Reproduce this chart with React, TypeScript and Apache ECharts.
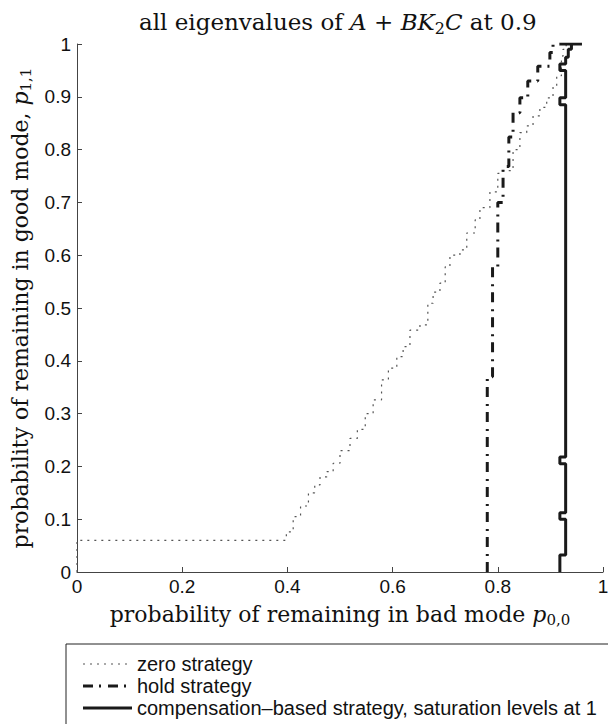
import React, { useEffect, useRef } from "react";
import * as echarts from "echarts";

const xTicks = [0, 0.2, 0.4, 0.6, 0.8, 1];
const yTicks = [0, 0.1, 0.2, 0.3, 0.4, 0.5, 0.6, 0.7, 0.8, 0.9, 1];

const seriesNames = [
  "zero strategy",
  "hold strategy",
  "compensation–based strategy, saturation levels at 1",
];

// zero strategy (stair boundary)
const zeroX = [0, 0, 0.39, 0.398, 0.411, 0.425, 0.44, 0.452, 0.462, 0.475, 0.487, 0.5, 0.519, 0.533, 0.548, 0.563, 0.579, 0.592, 0.608, 0.62, 0.633, 0.652, 0.667, 0.677, 0.69, 0.7, 0.709, 0.728, 0.741, 0.757, 0.766, 0.785, 0.8, 0.81, 0.829, 0.842, 0.855, 0.867, 0.88, 0.893, 0.905, 0.912, 0.921, 0.924, 0.93];
const zeroY = [0, 0.06, 0.06, 0.076, 0.105, 0.125, 0.15, 0.165, 0.18, 0.19, 0.206, 0.23, 0.253, 0.27, 0.3, 0.326, 0.364, 0.386, 0.408, 0.427, 0.458, 0.468, 0.509, 0.53, 0.547, 0.578, 0.6, 0.61, 0.642, 0.667, 0.69, 0.72, 0.755, 0.76, 0.8, 0.832, 0.845, 0.864, 0.88, 0.898, 0.92, 0.94, 0.977, 0.99, 1.0];

// hold strategy
const holdX = [0.78, 0.78, 0.79, 0.79, 0.8, 0.8, 0.81, 0.81, 0.821, 0.821, 0.829, 0.829, 0.842, 0.842, 0.857, 0.857, 0.876, 0.876, 0.899, 0.899, 0.905, 0.905, 0.918];
const holdY = [0, 0.37, 0.37, 0.578, 0.578, 0.7, 0.7, 0.768, 0.768, 0.824, 0.824, 0.87, 0.87, 0.898, 0.898, 0.93, 0.93, 0.958, 0.958, 0.984, 0.984, 1.0, 1.0];

// compensation-based strategy
const compX = [0.918, 0.918, 0.929, 0.929, 0.918, 0.918, 0.929, 0.929, 0.918, 0.918, 0.929, 0.929, 0.918, 0.918, 0.929, 0.929, 0.918, 0.918, 0.929, 0.929, 0.934, 0.934, 0.94, 0.94, 0.918, 0.96];
const compY = [0, 0.032, 0.032, 0.1, 0.1, 0.112, 0.112, 0.205, 0.205, 0.218, 0.218, 0.885, 0.885, 0.898, 0.898, 0.95, 0.95, 0.962, 0.962, 0.975, 0.975, 0.99, 0.99, 1.0, 1.0, 1.0];

const zip = (xs: number[], ys: number[]) => xs.map((x, i) => [x, ys[i]]);

const fmt = (v: number) => (v === 0 ? "0" : v === 1 ? "1" : v.toFixed(1));

const SERIF = "'DejaVu Serif', 'Liberation Serif', serif";
const SANS = "'Liberation Sans', Arial, sans-serif";

const zeroStyle = { type: [2, 5] as number[], width: 1.2, color: "#555" };
const holdStyle = { type: [10, 6, 2, 7] as number[], width: 3, color: "#1a1a1a" };
const compStyle = { type: "solid", width: 3, color: "#1a1a1a" };

export default function App() {
  const ref = useRef<HTMLDivElement>(null);
  useEffect(() => {
    if (!ref.current) return;
    const chart = echarts.init(ref.current, undefined, { renderer: "svg" });
    const mkRich = (fs: number) => ({
      n: { fontFamily: SERIF, fontSize: fs, fontWeight: "normal", color: "#111" },
      i: { fontFamily: SERIF, fontSize: fs, fontStyle: "italic", fontWeight: "normal", color: "#111" },
      s: { fontFamily: SERIF, fontSize: Math.round(fs * 0.7), fontWeight: "normal", color: "#111", padding: [Math.round(fs * 0.5), 0, 0, 0] },
    });
    const legendRows = [
      { name: seriesNames[0], style: zeroStyle, y: 664 },
      { name: seriesNames[1], style: holdStyle, y: 686 },
      { name: seriesNames[2], style: compStyle, y: 708 },
    ];
    const legendGraphics: any[] = [
      {
        type: "rect",
        shape: { x: 66, y: 644, width: 600, height: 100 },
        style: { fill: "#fff", stroke: "#222", lineWidth: 1 },
        silent: true,
      },
    ];
    legendRows.forEach((r) => {
      legendGraphics.push({
        type: "line",
        shape: { x1: 83, y1: r.y, x2: 132, y2: r.y },
        style: {
          stroke: r.style.color,
          lineWidth: r.style.width,
          lineDash: Array.isArray(r.style.type) ? r.style.type : null,
        },
        silent: true,
      });
      legendGraphics.push({
        type: "text",
        x: 137,
        y: r.y,
        style: {
          text: r.name,
          fontFamily: SANS,
          fontSize: 20,
          fill: "#111",
          verticalAlign: "middle",
          align: "left",
        },
        silent: true,
      });
    });
    chart.setOption({
      animation: false,
      backgroundColor: "#fff",
      title: {
        text: "{n|all eigenvalues of }{i|A}{n| + }{i|BK}{s|2}{i|C}{n| at 0.9}",
        left: 134,
        top: 3,
        textStyle: { rich: mkRich(23) },
      },
      grid: {
        left: 77,
        right: 5,
        top: 44,
        bottom: 152,
        containLabel: false,
        outerBoundsMode: "none",
      },
      graphic: legendGraphics,
      xAxis: {
        type: "value",
        min: 0,
        max: 1,
        interval: 0.2,
        name: "{n|probability of remaining in bad mode }{i|p}{s|0,0}",
        nameLocation: "middle",
        nameGap: 29,
        nameTextStyle: { rich: mkRich(22) },
        axisLine: { lineStyle: { color: "#444", width: 1 } },
        axisTick: { inside: true, length: 5, lineStyle: { color: "#444" } },
        axisLabel: { formatter: fmt, fontFamily: SANS, fontSize: 19, color: "#111", margin: 5 },
        splitLine: { show: false },
      },
      yAxis: {
        type: "value",
        min: 0,
        max: 1,
        interval: 0.1,
        name: "{n|probability of remaining in good mode, }{i|p}{s|1,1}",
        nameLocation: "middle",
        nameGap: 43,
        nameTextStyle: { rich: mkRich(22) },
        axisLine: { show: true, lineStyle: { color: "#444", width: 1 } },
        axisTick: { show: true, inside: true, length: 5, lineStyle: { color: "#444" } },
        axisLabel: { formatter: fmt, fontFamily: SANS, fontSize: 19, color: "#111", margin: 6 },
        splitLine: { show: false },
      },
      series: [
        {
          name: seriesNames[0],
          type: "line",
          data: zip(zeroX, zeroY),
          step: "end",
          symbol: "none",
          showSymbol: false,
          lineStyle: zeroStyle,
          itemStyle: { color: zeroStyle.color },
        },
        {
          name: seriesNames[1],
          type: "line",
          data: zip(holdX, holdY),
          symbol: "none",
          showSymbol: false,
          lineStyle: holdStyle,
          itemStyle: { color: holdStyle.color },
        },
        {
          name: seriesNames[2],
          type: "line",
          data: zip(compX, compY),
          symbol: "none",
          showSymbol: false,
          lineStyle: compStyle,
          itemStyle: { color: compStyle.color },
        },
      ],
    });
    return () => chart.dispose();
  }, []);
  return (
    <div
      ref={ref}
      style={{ position: "absolute", left: 0, top: 0, width: 608, height: 724, background: "#fff" }}
    />
  );
}
